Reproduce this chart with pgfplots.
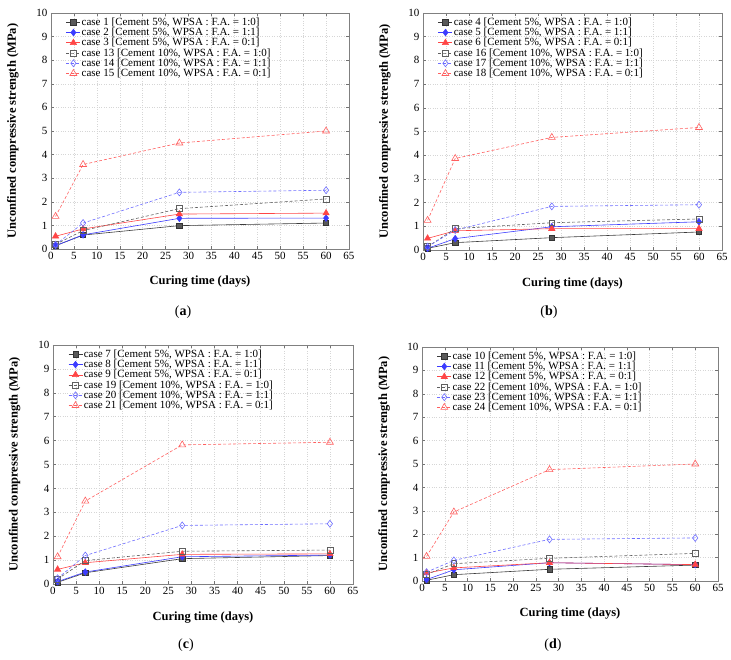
\documentclass[border=0pt]{standalone}
\usepackage{pgfplots}
\pgfplotsset{compat=1.18}
\usepackage{fontspec}
\setmainfont{Liberation Serif}

\definecolor{cblk}{RGB}{60,60,60}
\definecolor{cblu}{RGB}{60,60,255}
\definecolor{cred}{RGB}{255,70,70}
\definecolor{cblk2}{RGB}{95,95,95}
\definecolor{cblu2}{RGB}{110,110,255}
\definecolor{cred2}{RGB}{255,95,95}

\pgfplotsset{
 panel/.style={
  scale only axis, xmin=0, xmax=65, ymin=0, ymax=10,
  xtick={0,5,...,65}, ytick={0,1,...,10},
  grid=major, grid style={dotted, black!16, line width=0.4pt},
  axis line style={black!50, line width=0.8pt},
  tick style={black!55, line width=0.5pt}, tick align=inside, major tick length=3pt,
  xticklabel style={font=\fontsize{11}{12}\selectfont},
  yticklabel style={font=\fontsize{11}{12}\selectfont},
  xlabel={Curing time (days)},
  ylabel={Unconfined compressive strength (MPa)},
  every axis x label/.style={at={(axis description cs:0.5,-0.14)},anchor=center,font=\fontsize{12.5}{14}\selectfont\bfseries},
  every axis y label/.style={at={(axis description cs:-0.128,0.5)},anchor=center,rotate=90,font=\fontsize{12.5}{14}\selectfont\bfseries},
  legend style={at={(axis description cs:0.05,0.985)}, anchor=north west, draw=none, fill=none,
    font=\fontsize{11}{12}\selectfont, row sep=-0.9pt, inner sep=0pt, nodes={inner sep=1pt}},
  legend cell align=left,
  legend image code/.code={\draw[mark repeat=2,mark phase=2] plot coordinates {(0pt,0pt)(7pt,0pt)(14pt,0pt)};},
  /pgf/number format/assume math mode=true,
 },
 s1/.style={cblk, line width=0.6pt, mark=square*, mark size=2.7pt, mark options={fill=black!65, draw=black!80}},
 s2/.style={cblu, line width=0.6pt, mark=diamond*, mark size=3.3pt, mark options={fill=cblu}},
 s3/.style={cred, line width=0.6pt, mark=triangle*, mark size=3.6pt, mark options={fill=cred}},
 s4/.style={cblk2, line width=0.6pt, dash pattern=on 3pt off 2pt, mark=square, mark size=2.9pt, mark options={solid, fill=none}},
 s5/.style={cblu2, line width=0.6pt, dash pattern=on 3pt off 2pt, mark=diamond, mark size=3.5pt, mark options={solid, fill=none}},
 s6/.style={cred2, line width=0.6pt, dash pattern=on 3pt off 2pt, mark=triangle, mark size=4pt, mark options={solid, fill=none}},
}

\begin{document}
\begin{tikzpicture}[x=1pt,y=1pt]
\useasboundingbox (0,0) rectangle (731,660);

% (a)
\begin{axis}[panel, at={(51pt,411pt)}, anchor=south west, width=298pt, height=236pt]
\addplot[s1] coordinates {(1,0.14) (7,0.59) (28,0.99) (60,1.10)};
\addlegendentry{case 1 [Cement 5\%, WPSA : F.A. = 1:0]}
\addplot[s2] coordinates {(1,0.14) (7,0.60) (28,1.30) (60,1.31)};
\addlegendentry{case 2 [Cement 5\%, WPSA : F.A. = 1:1]}
\addplot[s3] coordinates {(1,0.54) (7,0.85) (28,1.48) (60,1.52)};
\addlegendentry{case 3 [Cement 5\%, WPSA : F.A. = 0:1]}
\addplot[s4] coordinates {(1,0.20) (7,0.78) (28,1.71) (60,2.12)};
\addlegendentry{case 13 [Cement 10\%, WPSA : F.A. = 1:0]}
\addplot[s5] coordinates {(1,0.18) (7,1.10) (28,2.40) (60,2.49)};
\addlegendentry{case 14 [Cement 10\%, WPSA : F.A. = 1:1]}
\addplot[s6] coordinates {(1,1.38) (7,3.58) (28,4.49) (60,5.00)};
\addlegendentry{case 15 [Cement 10\%, WPSA : F.A. = 0:1]}
\end{axis}

% (b)
\begin{axis}[panel, at={(423pt,410pt)}, anchor=south west, width=299pt, height=237pt]
\addplot[s1] coordinates {(1,0.07) (7,0.31) (28,0.52) (60,0.76)};
\addlegendentry{case 4 [Cement 5\%, WPSA : F.A. = 1:0]}
\addplot[s2] coordinates {(1,0.07) (7,0.48) (28,0.98) (60,1.19)};
\addlegendentry{case 5 [Cement 5\%, WPSA : F.A. = 1:1]}
\addplot[s3] coordinates {(1,0.49) (7,0.81) (28,0.90) (60,0.90)};
\addlegendentry{case 6 [Cement 5\%, WPSA : F.A. = 0:1]}
\addplot[s4] coordinates {(1,0.14) (7,0.90) (28,1.15) (60,1.31)};
\addlegendentry{case 16 [Cement 10\%, WPSA : F.A. = 1:0]}
\addplot[s5] coordinates {(1,0.14) (7,0.84) (28,1.84) (60,1.91)};
\addlegendentry{case 17 [Cement 10\%, WPSA : F.A. = 1:1]}
\addplot[s6] coordinates {(1,1.25) (7,3.86) (28,4.75) (60,5.17)};
\addlegendentry{case 18 [Cement 10\%, WPSA : F.A. = 0:1]}
\end{axis}

% (c)
\begin{axis}[panel, at={(53pt,76pt)}, anchor=south west, width=300pt, height=239pt]
\addplot[s1] coordinates {(1,0.07) (7,0.47) (28,1.06) (60,1.19)};
\addlegendentry{case 7 [Cement 5\%, WPSA : F.A. = 1:0]}
\addplot[s2] coordinates {(1,0.10) (7,0.50) (28,1.14) (60,1.21)};
\addlegendentry{case 8 [Cement 5\%, WPSA : F.A. = 1:1]}
\addplot[s3] coordinates {(1,0.61) (7,0.89) (28,1.24) (60,1.26)};
\addlegendentry{case 9 [Cement 5\%, WPSA : F.A. = 0:1]}
\addplot[s4] coordinates {(1,0.21) (7,0.98) (28,1.37) (60,1.42)};
\addlegendentry{case 19 [Cement 10\%, WPSA : F.A. = 1:0]}
\addplot[s5] coordinates {(1,0.24) (7,1.19) (28,2.45) (60,2.52)};
\addlegendentry{case 20 [Cement 10\%, WPSA : F.A. = 1:1]}
\addplot[s6] coordinates {(1,1.14) (7,3.47) (28,5.82) (60,5.93)};
\addlegendentry{case 21 [Cement 10\%, WPSA : F.A. = 0:1]}
\end{axis}

% (d)
\begin{axis}[panel, at={(422pt,79pt)}, anchor=south west, width=296pt, height=234pt]
\addplot[s1] coordinates {(1,0.03) (7,0.27) (28,0.50) (60,0.68)};
\addlegendentry{case 10 [Cement 5\%, WPSA : F.A. = 1:0]}
\addplot[s2] coordinates {(1,0.06) (7,0.48) (28,0.78) (60,0.70)};
\addlegendentry{case 11 [Cement 5\%, WPSA : F.A. = 1:1]}
\addplot[s3] coordinates {(1,0.34) (7,0.56) (28,0.78) (60,0.70)};
\addlegendentry{case 12 [Cement 5\%, WPSA : F.A. = 0:1]}
\addplot[s4] coordinates {(1,0.28) (7,0.74) (28,0.97) (60,1.18)};
\addlegendentry{case 22 [Cement 10\%, WPSA : F.A. = 1:0]}
\addplot[s5] coordinates {(1,0.38) (7,0.88) (28,1.78) (60,1.84)};
\addlegendentry{case 23 [Cement 10\%, WPSA : F.A. = 1:1]}
\addplot[s6] coordinates {(1,1.05) (7,2.95) (28,4.76) (60,5.00)};
\addlegendentry{case 24 [Cement 10\%, WPSA : F.A. = 0:1]}
\end{axis}

\node[font=\fontsize{14}{16}\selectfont] at (183,348) {(\textbf{a})};
\node[font=\fontsize{14}{16}\selectfont] at (549,348) {(\textbf{b})};
\node[font=\fontsize{14}{16}\selectfont] at (186,15) {(\textbf{c})};
\node[font=\fontsize{14}{16}\selectfont] at (553,15) {(\textbf{d})};
\end{tikzpicture}
\end{document}
